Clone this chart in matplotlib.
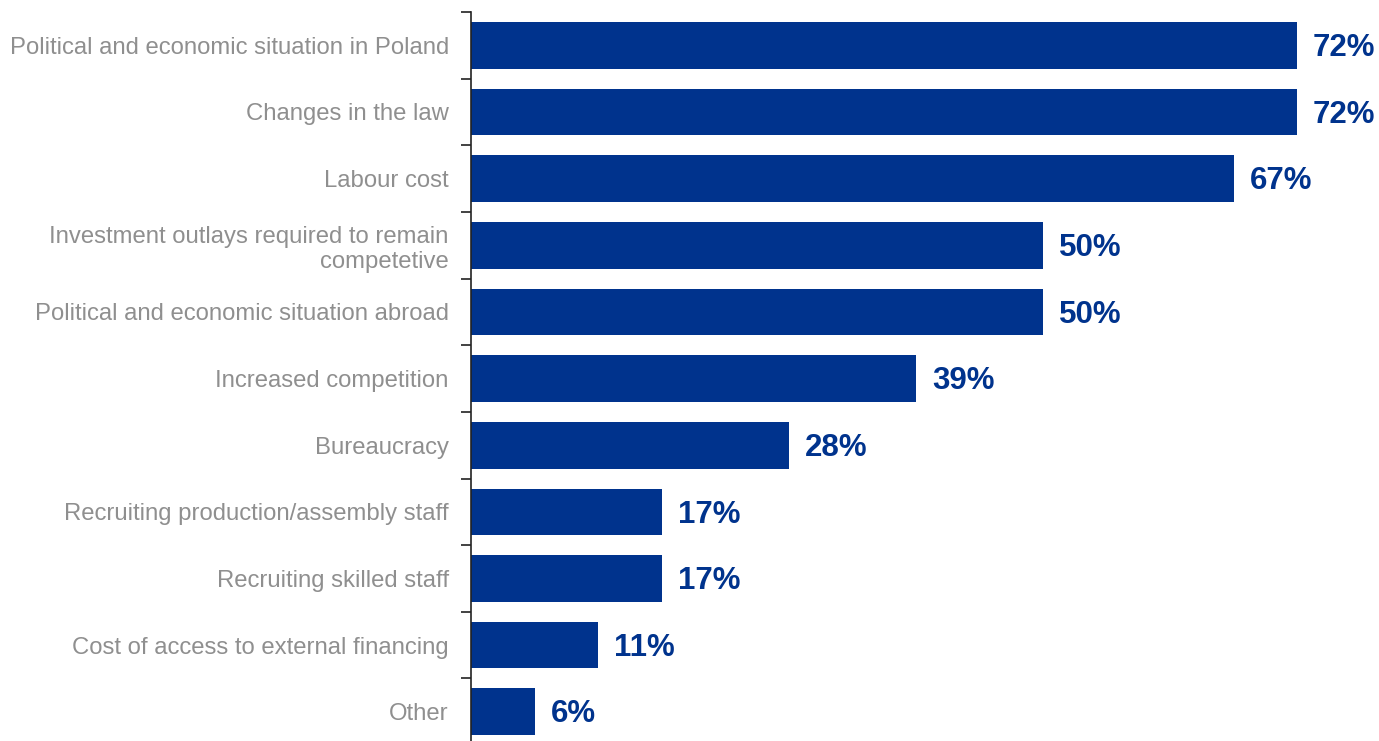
import matplotlib.pyplot as plt
import numpy as np
from matplotlib.ticker import FixedLocator

categories = [
    'Political and economic situation in Poland',
    'Changes in the law',
    'Labour cost',
    'Investment outlays required to remain\ncompetetive',
    'Political and economic situation abroad',
    'Increased competition',
    'Bureaucracy',
    'Recruiting production/assembly staff',
    'Recruiting skilled staff',
    'Cost of access to external financing',
    'Other',
]
values = [72.2, 72.2, 66.7, 50.0, 50.0, 38.9, 27.8, 16.7, 16.7, 11.1, 5.6]
labels = ['72%', '72%', '67%', '50%', '50%', '39%', '28%', '17%', '17%', '11%', '6%']

blue = '#00338D'
grey = '#8f8f8f'

fig = plt.figure(figsize=(13.79, 7.41), dpi=100)
# axis top at 12px, runs off the bottom edge
ax = fig.add_axes([471 / 1379, 0, 1 - 471 / 1379, (741 - 12) / 741])

y = np.arange(len(categories))
ax.barh(y, values, height=0.7, color=blue)

for yi, v, lab in zip(y, values, labels):
    ax.text(v + 1.4, yi + 0.04, lab, va='center', ha='left', color=blue,
            fontsize=22.5, fontweight='bold', family='Liberation Sans')

ax.set_ylim(10.438, -0.5)
ax.set_xlim(0, 79.4)

ax.set_yticks(y)
ax.set_yticklabels(categories, fontsize=17.2, color=grey, family='Liberation Sans',
                   linespacing=1.2)
ax.tick_params(axis='y', which='major', length=0, pad=16)
ax.yaxis.set_minor_locator(FixedLocator(np.arange(-0.5, len(categories), 1)))
ax.tick_params(axis='y', which='minor', length=7, width=1.2, color='#222222')

ax.set_xticks([])
for s in ['top', 'right', 'bottom']:
    ax.spines[s].set_visible(False)
ax.spines['left'].set_color('#222222')
ax.spines['left'].set_linewidth(1.2)

fig.savefig('out.png', dpi=100)
